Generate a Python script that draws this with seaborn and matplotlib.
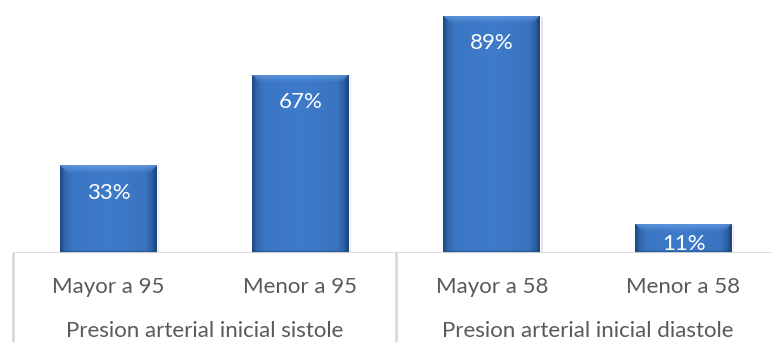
import numpy as np
import pandas as pd
import matplotlib
matplotlib.use("Agg")
import matplotlib.pyplot as plt
import seaborn as sns
from matplotlib import transforms
from matplotlib.colors import to_rgb

# ---- data ----
categories = ["Mayor a 95", "Menor a 95", "Mayor a 58", "Menor a 58"]
groups = ["Presion arterial inicial sistole", "Presion arterial inicial diastole"]
group_of = [0, 0, 1, 1]
values = [33, 67, 89, 11]
labels = ["33%", "67%", "89%", "11%"]

sns.set_style("white")
plt.rcParams["font.family"] = ["Lato", "DejaVu Sans"]

W, H = 771, 342
fig = plt.figure(figsize=(W / 100, H / 100), dpi=100)
PX_PER_UNIT = 2.663
ax = fig.add_axes([12.7 / W, 89 / H, 766.7 / W, 253 / H])

df = pd.DataFrame({"cat": categories, "val": values})
sns.barplot(data=df, x="cat", y="val", order=categories, color="#3b77c4",
            saturation=1, width=0.506, ax=ax, zorder=2)
ax.set_xlim(-0.5, 3.5)
ax.set_ylim(0, 253 / PX_PER_UNIT)
for s in ax.spines.values():
    s.set_visible(False)
ax.set_yticks([])
ax.set_xlabel("")
ax.set_ylabel("")

TXT = "#595959"
FS = 16
ax.tick_params(axis="x", length=0, pad=17, labelsize=FS, labelcolor=TXT)

# gradient / bevel fill
stops = [(0.0, "#1d4a82"), (0.05, "#3367ad"), (0.12, "#3b76c4"), (0.5, "#3e7bca"),
         (0.88, "#3a74c0"), (0.95, "#2e61a6"), (1.0, "#1c4477")]
def col_at(t):
    for (t0, c0), (t1, c1) in zip(stops[:-1], stops[1:]):
        if t0 <= t <= t1:
            f = (t - t0) / (t1 - t0) if t1 > t0 else 0
            a, b = np.array(to_rgb(c0)), np.array(to_rgb(c1))
            return a + (b - a) * f
    return np.array(to_rgb(stops[-1][1]))

ncols = 97
base = np.array([col_at(i / (ncols - 1)) for i in range(ncols)])
light = np.array(to_rgb("#6aa0e4"))
dark = np.array(to_rgb("#1e4678"))

for patch, v in zip(ax.patches, values):
    x0 = patch.get_x(); w = patch.get_width()
    hpx = int(round(v * PX_PER_UNIT))
    img = np.tile(base[None, :, :], (hpx, 1, 1)).copy()
    bev = 8
    for r in range(min(bev, hpx)):
        f = 0.75 * (1 - r / bev)
        for c in range(ncols):
            if r <= c <= ncols - 1 - r:
                img[r, c] = img[r, c] * (1 - f) + light * f
    for r in range(min(3, hpx)):
        f = 0.6 * (1 - r / 3)
        img[hpx - 1 - r] = img[hpx - 1 - r] * (1 - f) + dark * f
    sh = plt.Rectangle((x0 + 0.012, -0.4), w, v, transform=ax.transData,
                       facecolor="#000000", alpha=0.12, zorder=1, linewidth=0)
    ax.add_patch(sh)
    im = ax.imshow(img, extent=(x0, x0 + w, 0, v), aspect="auto",
                   interpolation="bilinear", zorder=3, origin="upper")
    im.set_clip_path(patch)
ax.set_xlim(-0.5, 3.5)
ax.set_ylim(0, 253 / PX_PER_UNIT)

# value labels
for i, (v, lab) in enumerate(zip(values, labels)):
    hpx = v * PX_PER_UNIT
    pad_px = min(27.5, hpx - 9.5)
    ax.annotate(lab, xy=(i, v), xytext=(0, -pad_px * 0.72), textcoords="offset points",
                ha="center", va="center", color="white", fontsize=FS, zorder=5)

# axis line & separators
LC = "#d9d9d9"
ax.axhline(0, color=LC, lw=2, zorder=4, xmin=0, xmax=1)
for xs in [-0.5, 1.5, 3.5]:
    ax.plot([xs, xs], [0, -89 / 253], transform=transforms.blended_transform_factory(ax.transData, ax.transAxes),
            color=LC, lw=2, clip_on=False, zorder=4)

# group labels
tr = transforms.blended_transform_factory(ax.transData, fig.transFigure)
for gi, g in enumerate(groups):
    idx = [i for i, go in enumerate(group_of) if go == gi]
    xc = np.mean(idx)
    ax.text(xc, 1 - 331 / H, g, transform=tr, ha="center", va="center",
            color=TXT, fontsize=FS)

fig.savefig("out.png", dpi=100)
